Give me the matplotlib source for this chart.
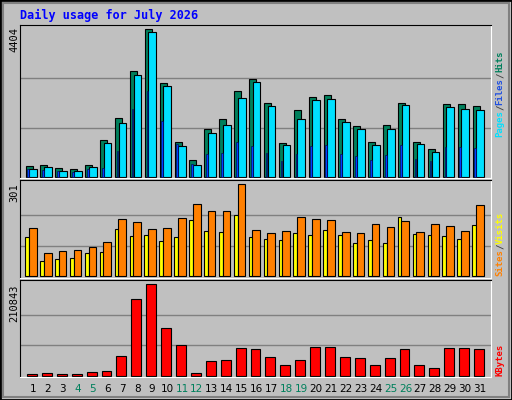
import numpy as np
import matplotlib.pyplot as plt
from matplotlib.patches import Rectangle

days = list(range(1, 32))
weekends = [4, 5, 11, 12, 18, 19, 25, 26]

hits = [309, 349, 249, 219, 349, 1086, 1754, 3159, 4404, 2790, 1026, 488, 1415, 1714, 2561, 2909,
        2192, 996, 1983, 2371, 2431, 1714, 1505, 1026, 1534, 2192, 1026, 817, 2162, 2162, 2102]
files = [219, 279, 159, 159, 279, 996, 1594, 3029, 4314, 2700, 907, 349, 1295, 1534, 2342, 2820,
         2102, 937, 1714, 2282, 2312, 1624, 1415, 937, 1415, 2132, 967, 727, 2073, 2013, 1983]
pages = [219, 189, 159, 139, 219, 249, 757, 2013, 2551, 1654, 967, 369, 668, 697, 1026, 907,
         697, 458, 668, 907, 937, 668, 608, 488, 638, 937, 518, 458, 877, 877, 847]
sites = [128, 49, 56, 59, 75, 79, 154, 131, 134, 115, 128, 183, 147, 144, 200, 128,
         121, 118, 141, 134, 151, 134, 108, 118, 108, 193, 137, 134, 131, 121, 167]
visits = [157, 75, 82, 85, 95, 111, 186, 177, 154, 157, 190, 236, 213, 213, 301, 151,
          141, 147, 193, 186, 183, 144, 141, 170, 160, 180, 144, 170, 164, 147, 232]
kbytes = [3078, 5387, 3078, 3078, 7695, 10004, 44631, 176216, 210843, 109269, 70025, 5387,
          33089, 35397, 63099, 60791, 42323, 23855, 35397, 65408, 65408, 42323, 40014, 23855,
          40014, 60791, 23855, 16929, 63099, 63099, 60791]

BG = '#C0C0C0'
x = np.array(days)

fig = plt.figure(figsize=(5.12, 4.0), dpi=100, facecolor=BG)
# bevel frame
fig.patches.append(Rectangle((0, 0), 1, 1, transform=fig.transFigure, fill=False,
                             edgecolor='black', lw=2))
fig.patches.append(Rectangle((3/512, 3/400), 1-6/512, 1-6/400, transform=fig.transFigure,
                             fill=False, edgecolor='#808080', lw=1.5))

def panel(rect, ymax, pad_lo, pad_hi):
    ax = fig.add_axes(rect)
    ax.set_facecolor(BG)
    ax.set_xlim(0.13, 31.72)
    ax.set_ylim(-pad_lo, ymax + pad_hi)
    for k in (1, 2):
        ax.axhline(ymax * k / 3, color='#808080', lw=1, zorder=0)
    ax.set_xticks([])
    ax.set_yticks([])
    ax.spines['left'].set_color('black')
    ax.spines['top'].set_color('black')
    ax.spines['right'].set_color('white')
    ax.spines['bottom'].set_color('white')
    return ax

mono = 'DejaVu Sans Mono'

ax1 = panel([20/512, 1-178/400, 470.7/512, 153.3/400], 4404, 40, 140)
ax1.bar(x - 0.5, hits, width=0.47, align='edge', color='#00805C', edgecolor='black', lw=0.8)
ax1.bar(x - 0.25, files, width=0.52, align='edge', color='#00E0FF', edgecolor='black', lw=0.8)
ax1.bar(x - 0.38, pages, width=0.12, align='edge', color='#0040FF', edgecolor='#000040', lw=0.4)

ax2 = panel([20/512, 1-278.3/400, 470.7/512, 98.3/400], 301, 6.5, 14)
ax2.bar(x - 0.52, sites, width=0.25, align='edge', color='#FFFF00', edgecolor='black', lw=0.8)
ax2.bar(x - 0.27, visits, width=0.52, align='edge', color='#FF8000', edgecolor='black', lw=0.8)

ax3 = panel([20/512, 1-377/400, 470.7/512, 96.7/400], 210843, 3000, 9200)
ax3.bar(x - 0.4, kbytes, width=0.67, align='edge', color='#FF0000', edgecolor='black', lw=0.8)

fig.text(20/512, 1-15/400, 'Daily usage for July 2026', color='#0000FF', family=mono,
         weight='bold', fontsize=8.5, va='center', ha='left')

for y0, lab in [(27, '4404'), (183, '301'), (284, '210843')]:
    fig.text(14/512, 1-y0/400, lab, rotation=90, family=mono, fontsize=7.5,
             ha='center', va='top')

def right_label(ytop, parts):
    # parts listed bottom to top
    y = 1 - ytop / 400
    for txt, col in parts:
        t = fig.text(500/512, y, txt, rotation=90, color=col, family=mono,
                     fontsize=6.5, ha='center', va='bottom', weight='bold')
        fig.canvas.draw()
        bb = t.get_window_extent()
        y = bb.y1 / fig.bbox.height

right_label(137, [('Pages', '#00E0FF'), ('/', '#404040'), ('Files', '#2050E0'),
                  ('/', '#404040'), ('Hits', '#00805C')])
right_label(276, [('Sites', '#FF8000'), ('/', '#404040'), ('Visits', '#FFFF00')])
right_label(376, [('KBytes', '#FF0000')])

for d in days:
    xf = ax3.transData.transform((d, 0))[0] / fig.bbox.width
    fig.text(xf, 1-389/400, str(d), ha='center', va='center', fontsize=7.5,
             color='#00805C' if d in weekends else 'black')

fig.savefig('out.png', dpi=100, facecolor=BG)
